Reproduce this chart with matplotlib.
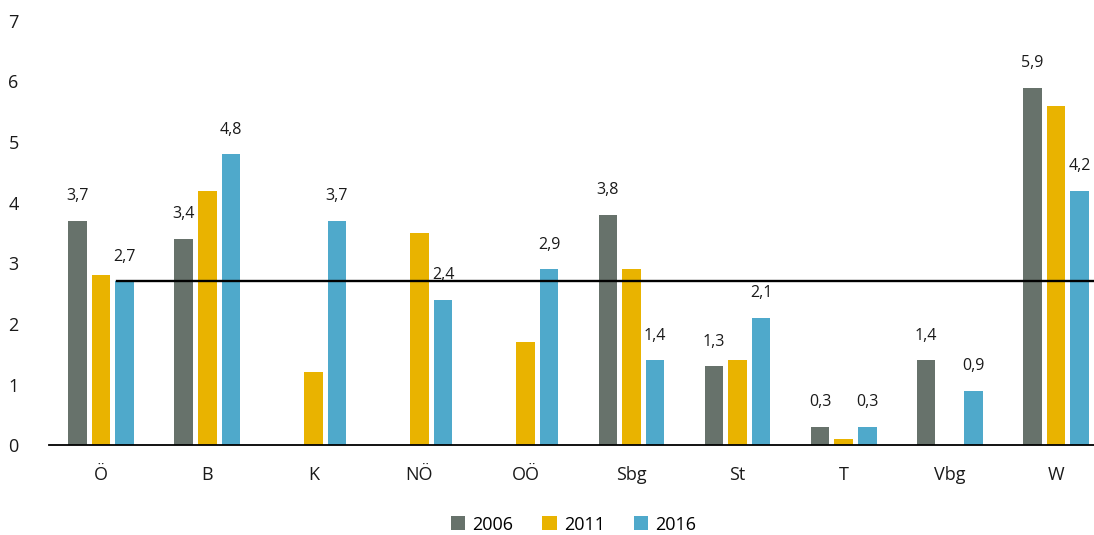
import numpy as np
import matplotlib
matplotlib.use("Agg")
import matplotlib.pyplot as plt

plt.rcParams['font.family'] = ['Open Sans', 'DejaVu Sans']

# Data
categories = ["Ö", "B", "K", "NÖ", "OÖ", "Sbg", "St", "T", "Vbg", "W"]
years = ["2006", "2011", "2016"]
v2006 = [3.7, 3.4, np.nan, np.nan, np.nan, 3.8, 1.3, 0.3, 1.4, 5.9]
v2011 = [2.8, 4.2, 1.2, 3.5, 1.7, 2.9, 1.4, 0.1, np.nan, 5.6]
v2016 = [2.7, 4.8, 3.7, 2.4, 2.9, 1.4, 2.1, 0.3, 0.9, 4.2]
austria_avg = 2.7

colors = ["#67726b", "#e9b300", "#4fa9cb"]
series = [v2006, v2011, v2016]
labelled = [True, False, True]

fig = plt.figure(figsize=(10.94, 5.35), dpi=100)
ax = fig.add_axes([0.045, 0.168, 0.955, 0.793])

x = np.arange(len(categories))
width = 0.175
step = 0.222

for i, (vals, col, year) in enumerate(zip(series, colors, years)):
    pos = x + (i - 1) * step
    ax.bar(pos, vals, width=width, color=col, label=year, zorder=2)
    if labelled[i]:
        for px, v in zip(pos, vals):
            if np.isnan(v):
                continue
            ax.annotate(f"{v:.1f}".replace(".", ","), (px, v),
                        xytext=(0, 12), textcoords="offset points",
                        ha="center", va="bottom", fontsize=11.5, color="#1a1a1a")

# Austria average line
ax.plot([0.15, 9.5], [austria_avg, austria_avg], color="black", lw=1.7, zorder=3)

ax.set_xlim(-0.49, 9.36)
ax.set_ylim(0, 7)
ax.set_xticks(x)
ax.set_xticklabels(categories, fontsize=13)
ax.set_yticks(range(0, 8))
ax.tick_params(axis="both", length=0, labelsize=13, colors="#1a1a1a")
ax.tick_params(axis="x", pad=15)
ax.tick_params(axis="y", pad=22)
for s in ["top", "right", "left"]:
    ax.spines[s].set_visible(False)
ax.spines["bottom"].set_linewidth(1.3)

ax.legend(loc="upper center", bbox_to_anchor=(0.502, -0.145), ncol=3, frameon=False,
          fontsize=13, handlelength=0.8, handleheight=0.8, handletextpad=0.4,
          columnspacing=1.6, borderpad=0.0)

fig.savefig("out.png", dpi=100)
